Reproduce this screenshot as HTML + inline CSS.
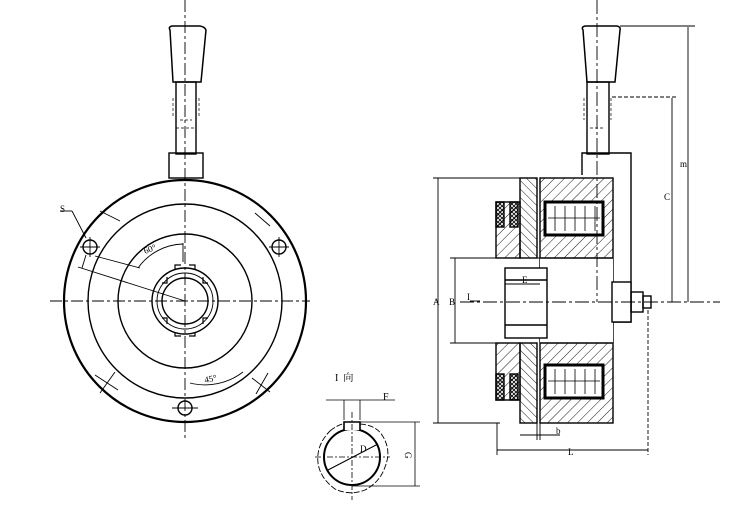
<!DOCTYPE html>
<html><head><meta charset="utf-8"><style>html,body{margin:0;padding:0;background:#fff}svg{display:block}</style></head>
<body>
<svg width="750" height="507" viewBox="0 0 750 507" xmlns="http://www.w3.org/2000/svg" font-family="Liberation Serif, Noto Serif CJK SC, serif">
<defs>
<pattern id="h" width="7" height="7" patternUnits="userSpaceOnUse" patternTransform="rotate(45)"><line x1="0" y1="0" x2="0" y2="7" stroke="#000" stroke-width="0.9"/></pattern>
<pattern id="h2" width="6" height="6" patternUnits="userSpaceOnUse" patternTransform="rotate(-45)"><line x1="0" y1="0" x2="0" y2="6" stroke="#000" stroke-width="0.9"/></pattern>
<pattern id="x" width="4" height="4" patternUnits="userSpaceOnUse"><path d="M0 0L4 4M4 0L0 4" stroke="#000" stroke-width="0.8"/></pattern>
</defs>
<g fill="none" stroke="#000" stroke-width="1.4">
<!-- LEFT VIEW -->
<circle cx="185" cy="301" r="121" stroke-width="2.2"/>
<circle cx="185" cy="301" r="97"/>
<circle cx="185" cy="301" r="67"/>
<circle cx="185" cy="301" r="33"/>
<circle cx="185" cy="301" r="23"/>
<circle cx="185" cy="301" r="28" stroke-width="0.9"/>
<path d="M162 283h5v-6M175 270v-5h6M189 265h6v5M203 277v6h5M208 318h-5v6M195 332v4h-6M181 336h-6v-4M167 324v-6h-5" stroke-width="1.2"/>
<circle cx="90" cy="247" r="7"/><circle cx="279" cy="247" r="7"/><circle cx="185" cy="408" r="7"/>
<g stroke-width="0.9" stroke-dasharray="12 3 3 3">
<line x1="50" y1="301" x2="310" y2="301"/><line x1="185" y1="0" x2="185" y2="440"/>
</g>
<g stroke-width="0.9">
<line x1="80" y1="247" x2="100" y2="247"/><line x1="90" y1="237" x2="90" y2="257"/>
<line x1="269" y1="247" x2="289" y2="247"/><line x1="279" y1="237" x2="279" y2="257"/>
<line x1="172" y1="408" x2="198" y2="408"/>
<line x1="100" y1="211" x2="120" y2="221"/><line x1="255" y1="213" x2="270" y2="226"/>
<line x1="95" y1="375" x2="118" y2="390"/><line x1="100" y1="393" x2="115" y2="372"/>
<line x1="252" y1="378" x2="270" y2="392"/><line x1="256" y1="394" x2="268" y2="373"/>
<line x1="60" y1="211" x2="72" y2="211"/><line x1="72" y1="211" x2="86" y2="238"/>
<line x1="78" y1="267" x2="185" y2="301"/><line x1="95" y1="256" x2="140" y2="268"/>
<line x1="82" y1="268" x2="86" y2="255"/>
<path d="M138 268A57 57 0 0 1 183 244"/><line x1="183" y1="243" x2="183" y2="262"/>
<path d="M190 383A62 62 0 0 0 243 372"/>
</g>
<text x="60" y="212" font-size="9" stroke="none" fill="#000">S</text>
<text x="145" y="254" font-size="9" stroke="none" fill="#000" transform="rotate(-20 145 254)">60°</text>
<text x="205" y="383" font-size="9" stroke="none" fill="#000" transform="rotate(-12 205 383)">45°</text>
<!-- left handle -->
<path d="M170 30Q168 27 172 26H200Q205 27 206 30L201 82H173Z" stroke-width="1.5"/>
<rect x="176" y="82" width="20" height="72"/>
<path d="M173 98v20M199 98v20M180 120h12M176 128h20" stroke-width="0.7" stroke-dasharray="3 2"/>
<rect x="169" y="153" width="34" height="25"/>
<!-- RIGHT VIEW -->
<path d="M583 30Q581 27 585 26H617Q621 27 620 30L615 82H587Z" stroke-width="1.5"/>
<rect x="587" y="82" width="22" height="72"/>
<path d="M584 98v22M611 98v22M590 128h14" stroke-width="0.7" stroke-dasharray="3 2"/>
<path d="M582 175V153H631V322H612V282"/>
<rect x="540" y="178" width="73" height="245" fill="url(#h)"/>
<rect x="540" y="258" width="73" height="85" fill="#fff" stroke="none"/>
<line x1="540" y1="258" x2="613" y2="258"/><line x1="540" y1="343" x2="613" y2="343"/>
<rect x="545" y="202" width="58" height="33" fill="#fff" stroke-width="3"/>
<rect x="545" y="365" width="58" height="33" fill="#fff" stroke-width="3"/>
<path d="M555 206v25M565 206v25M575 206v25M585 206v25M595 206v25M548 218h52M555 369v25M565 369v25M575 369v25M585 369v25M595 369v25M548 381h52" stroke-width="0.8"/>
<rect x="520" y="178" width="17" height="80" fill="url(#h2)"/>
<rect x="520" y="343" width="17" height="80" fill="url(#h2)"/>
<rect x="496" y="202" width="24" height="56" fill="url(#h)"/>
<rect x="496" y="343" width="24" height="57" fill="url(#h)"/>
<rect x="496" y="202" width="8" height="25" fill="url(#x)"/><rect x="510" y="202" width="8" height="25" fill="url(#x)"/>
<rect x="496" y="374" width="8" height="26" fill="url(#x)"/><rect x="510" y="374" width="8" height="26" fill="url(#x)"/>
<rect x="505" y="268" width="42" height="70" fill="#fff"/>
<line x1="505" y1="280" x2="547" y2="280"/><line x1="505" y1="325" x2="547" y2="325"/>
<rect x="612" y="282" width="19" height="40" fill="#fff"/>
<rect x="631" y="292" width="12" height="20"/><rect x="643" y="296" width="8" height="12"/>
<g stroke-width="0.9">
<line x1="460" y1="302" x2="720" y2="302" stroke-dasharray="14 3 3 3"/>
<line x1="597" y1="0" x2="597" y2="302" stroke-dasharray="14 3 3 3"/>
<line x1="438" y1="178" x2="438" y2="423"/><line x1="433" y1="178" x2="520" y2="178"/><line x1="433" y1="423" x2="500" y2="423"/>
<line x1="455" y1="258" x2="455" y2="343"/><line x1="450" y1="258" x2="540" y2="258"/><line x1="450" y1="343" x2="505" y2="343"/>
<line x1="672" y1="98" x2="672" y2="302"/><line x1="612" y1="97" x2="677" y2="97" stroke-dasharray="4 2"/>
<line x1="688" y1="27" x2="688" y2="302"/><line x1="620" y1="26" x2="695" y2="26"/>
<line x1="497" y1="423" x2="497" y2="455"/><line x1="648" y1="310" x2="648" y2="455" stroke-dasharray="4 2"/>
<line x1="497" y1="450" x2="648" y2="450"/>
<line x1="520" y1="435" x2="560" y2="435"/><line x1="537" y1="423" x2="537" y2="440"/><line x1="540" y1="423" x2="540" y2="440"/>
<line x1="505" y1="284" x2="540" y2="284"/>
<line x1="470" y1="301" x2="480" y2="301"/>
</g>
<g font-size="9" stroke="none" fill="#000">
<text x="433" y="305">A</text><text x="449" y="305">B</text><text x="467" y="300">I</text>
<text x="664" y="200">C</text><text x="680" y="167">m</text><text x="568" y="455">L</text><text x="556" y="434">b</text><text x="522" y="283">E</text>
</g>
<!-- SMALL VIEW -->
<path d="M330 431Q343 420 357 424Q375 424 382 435Q392 450 385 467Q380 482 365 490Q350 496 335 489Q320 478 318 463Q316 445 330 431Z" stroke-width="0.9" stroke-dasharray="6 2"/>
<circle cx="352" cy="457" r="28" stroke-width="2"/>
<rect x="344" y="420" width="16" height="10" fill="#fff" stroke="none"/>
<path d="M344 430V422H360V430" stroke-width="1.6"/>
<line x1="344" y1="400" x2="344" y2="420" stroke-width="0.8"/><line x1="360" y1="400" x2="360" y2="420" stroke-width="0.8"/>
<line x1="326" y1="400" x2="373" y2="400" stroke-width="0.8"/><line x1="373" y1="400" x2="395" y2="400" stroke-width="0.8"/>
<line x1="360" y1="422" x2="420" y2="422" stroke-width="0.8"/><line x1="352" y1="486" x2="420" y2="486" stroke-width="0.8"/>
<line x1="415" y1="422" x2="415" y2="486" stroke-width="0.8"/>
<line x1="328" y1="470" x2="378" y2="444" stroke-width="1"/>
<line x1="315" y1="457" x2="390" y2="457" stroke-width="0.8" stroke-dasharray="6 2 2 2"/>
<line x1="352" y1="412" x2="352" y2="500" stroke-width="0.8" stroke-dasharray="6 2 2 2"/>
</g>
<g font-size="10" fill="#000">
<text x="335" y="381">I&#160;&#160;向</text>
<text x="383" y="400">F</text>
<text x="360" y="452" font-size="9">D</text>
<text x="405" y="458" font-size="9" transform="rotate(90 408 455)">G</text>
</g>
</svg>
</body></html>
